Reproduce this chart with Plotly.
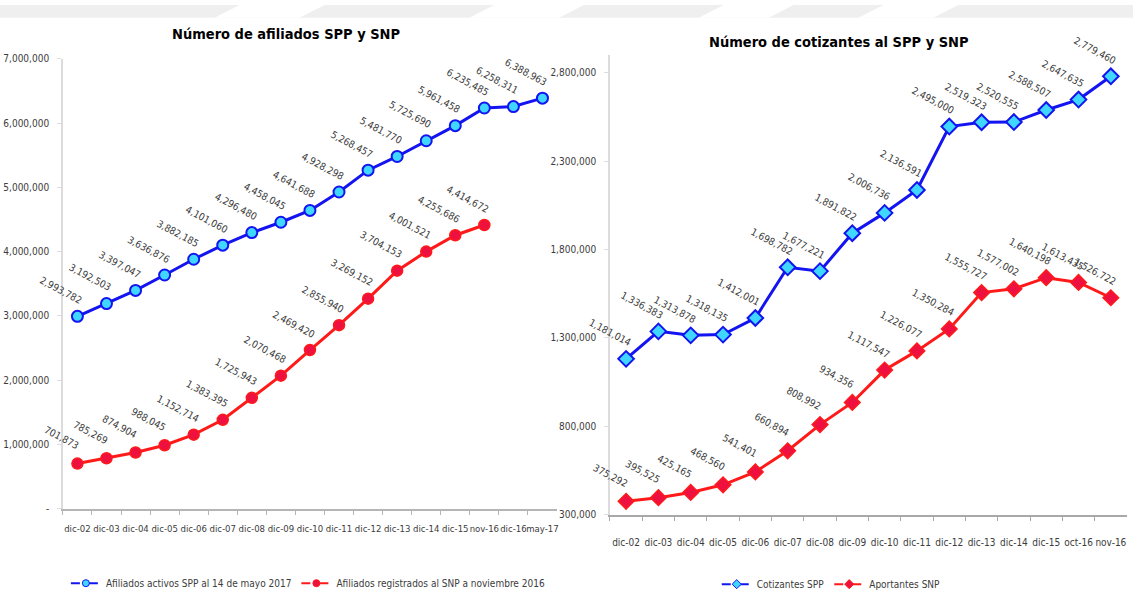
import plotly.graph_objects as go

# ---- Data -------------------------------------------------------------
fechas_afiliados = ["dic-02", "dic-03", "dic-04", "dic-05", "dic-06", "dic-07",
                    "dic-08", "dic-09", "dic-10", "dic-11", "dic-12", "dic-13",
                    "dic-14", "dic-15", "nov-16", "dic-16", "may-17"]
afiliados_spp = [2993782, 3192503, 3397047, 3636876, 3882185, 4101060, 4296480,
                 4458045, 4641688, 4928298, 5268457, 5481770, 5725690, 5961458,
                 6235485, 6258311, 6388963]
fechas_afiliados_snp = ["dic-02", "dic-03", "dic-04", "dic-05", "dic-06", "dic-07",
                        "dic-08", "dic-09", "dic-10", "dic-11", "dic-12", "dic-13",
                        "dic-14", "dic-15", "nov-16"]
afiliados_snp = [701873, 785269, 874904, 988045, 1152714, 1383395, 1725943,
                 2070468, 2469420, 2855940, 3269152, 3704153, 4001521, 4255686,
                 4414672]

fechas_cotizantes = ["dic-02", "dic-03", "dic-04", "dic-05", "dic-06", "dic-07",
                     "dic-08", "dic-09", "dic-10", "dic-11", "dic-12", "dic-13",
                     "dic-14", "dic-15", "oct-16", "nov-16"]
cotizantes_spp = [1181014, 1336383, 1313878, 1318135, 1412001, 1698782, 1677221,
                  1891822, 2006736, 2136591, 2495000, 2519323, 2520555, 2588507,
                  2647635, 2779460]
aportantes_snp = [375292, 395525, 425165, 468560, 541401, 660894, 808992, 934356,
                  1117547, 1226077, 1350284, 1555727, 1577002, 1640198, 1613435,
                  1526722]

ticks_afiliados = [0, 1000000, 2000000, 3000000, 4000000, 5000000, 6000000, 7000000]
ticks_afiliados_txt = ["-", "1,000,000", "2,000,000", "3,000,000", "4,000,000",
                       "5,000,000", "6,000,000", "7,000,000"]
ticks_cotizantes = [300000, 800000, 1300000, 1800000, 2300000, 2800000]
ticks_cotizantes_txt = ["300,000", "800,000", "1,300,000", "1,800,000",
                        "2,300,000", "2,800,000"]

W, H = 1135, 599
FONT = "DejaVu Sans Condensed, Liberation Sans Narrow, Arial Narrow, sans-serif"
AZUL, CIAN = "#1414f0", "#3fd6ff"
ROJO, ROJO_MK = "#ff1a1a", "#ee1140"
GRIS_TXT = "#3c3c3c"


def px_x(p):
    return p / W


def px_y(p):
    return 1 - p / H


fig = go.Figure()


def serie(xs, ys, nombre, color, relleno, simbolo, size, borde, xa, ya, leyenda):
    # plotted series (legend entry drawn separately with a compact symbol)
    fig.add_trace(go.Scatter(
        x=xs, y=ys, mode="lines+markers", name=nombre, showlegend=False,
        line=dict(color=color, width=3),
        marker=dict(symbol=simbolo, size=size, color=relleno,
                    line=dict(color=color, width=borde)),
        xaxis=xa, yaxis=ya))
    fig.add_trace(go.Scatter(
        x=[None], y=[None], mode="lines+markers", name=nombre, showlegend=True,
        line=dict(color=color, width=2, dash="dash"),
        marker=dict(symbol=simbolo, size=7, color=relleno,
                    line=dict(color=color, width=1)),
        xaxis=xa, yaxis=ya, legend=leyenda))


# ---- Left panel: afiliados --------------------------------------------
serie(fechas_afiliados, afiliados_spp, "Afiliados activos SPP al 14 de mayo 2017",
      AZUL, CIAN, "circle", 11, 2, "x", "y", "legend")
serie(fechas_afiliados_snp, afiliados_snp, "Afiliados registrados al SNP a noviembre 2016",
      ROJO, ROJO_MK, "circle", 11, 1.5, "x", "y", "legend")

# ---- Right panel: cotizantes ------------------------------------------
serie(fechas_cotizantes, cotizantes_spp, "Cotizantes SPP",
      AZUL, CIAN, "diamond", 12, 2, "x2", "y2", "legend2")
serie(fechas_cotizantes, aportantes_snp, "Aportantes SNP",
      ROJO, ROJO_MK, "diamond", 12, 1.5, "x2", "y2", "legend2")

# ---- Rotated value labels ---------------------------------------------
annotations = []


def etiquetas(xs, ys, xref, yref):
    for xv, yv in zip(xs, ys):
        annotations.append(dict(
            x=xv, y=yv, xref=xref, yref=yref, text=f"{yv:,}",
            showarrow=False, textangle=28, xanchor="center", yanchor="middle",
            xshift=-16, yshift=26,
            font=dict(family=FONT, size=10, color=GRIS_TXT)))


etiquetas(fechas_afiliados, afiliados_spp, "x", "y")
etiquetas(fechas_afiliados_snp, afiliados_snp, "x", "y")
etiquetas(fechas_cotizantes, cotizantes_spp, "x2", "y2")
etiquetas(fechas_cotizantes, aportantes_snp, "x2", "y2")

# Panel titles
annotations.append(dict(x=px_x(287), y=px_y(30), xref="paper", yref="paper",
                        text="<b>Número de afiliados SPP y SNP</b>", showarrow=False,
                        xanchor="center", yanchor="middle",
                        font=dict(family=FONT, size=14.5, color="#000000")))
annotations.append(dict(x=px_x(840), y=px_y(38), xref="paper", yref="paper",
                        text="<b>Número de cotizantes al SPP y SNP</b>", showarrow=False,
                        xanchor="center", yanchor="middle",
                        font=dict(family=FONT, size=14.5, color="#000000")))

# ---- Faint slide background band along the top ------------------------
shapes = [dict(type="rect", xref="paper", yref="paper", x0=0, x1=1,
               y0=px_y(13), y1=1, fillcolor="#efefef", line=dict(width=0), layer="below")]
for a, b in [(215, 300), (470, 560), (700, 770), (860, 935)]:
    shapes.append(dict(
        type="path", xref="paper", yref="paper",
        path=(f"M {px_x(a)} {px_y(13)} L {px_x(b)} {px_y(13)} "
              f"L {px_x(b + 25)} 1 L {px_x(a + 25)} 1 Z"),
        fillcolor="#ffffff", line=dict(width=0), layer="below"))

axis_font = dict(family=FONT, size=10, color=GRIS_TXT)
xtick_font_izq = dict(family=FONT, size=9.5, color=GRIS_TXT)
xtick_font_der = dict(family=FONT, size=10, color=GRIS_TXT)
legend_font = dict(family=FONT, size=10, color=GRIS_TXT)

fig.update_layout(
    width=W, height=H,
    margin=dict(l=0, r=0, t=0, b=0),
    paper_bgcolor="#ffffff", plot_bgcolor="rgba(0,0,0,0)",
    font=dict(family=FONT, color=GRIS_TXT),
    annotations=annotations, shapes=shapes,
    xaxis=dict(domain=[px_x(63), px_x(558)], anchor="y", type="category",
               categoryorder="array", categoryarray=fechas_afiliados,
               range=[-0.5, len(fechas_afiliados) - 0.5],
               showline=True, linecolor="#b5b5b5", linewidth=1.5,
               ticks="outside", tickson="boundaries", ticklen=5, tickcolor="#b5b5b5",
               showgrid=False, zeroline=False, tickfont=xtick_font_izq, tickangle=0,
               ticklabelstandoff=10),
    yaxis=dict(domain=[px_y(514), px_y(55)], anchor="x", range=[0, 7000000],
               tickvals=ticks_afiliados, ticktext=ticks_afiliados_txt,
               showline=True, linecolor="#dcdcdc", linewidth=1.5,
               ticks="outside", ticklen=4, tickcolor="#dcdcdc",
               showgrid=False, zeroline=False, tickfont=axis_font,
               ticklabelstandoff=6),
    xaxis2=dict(domain=[px_x(611), px_x(1129)], anchor="y2", type="category",
                categoryorder="array", categoryarray=fechas_cotizantes,
                range=[-0.5, len(fechas_cotizantes) - 0.5],
                showline=True, linecolor="#a8a8a8", linewidth=1.5,
                ticks="outside", tickson="boundaries", ticklen=5, tickcolor="#a8a8a8",
                showgrid=False, zeroline=False, tickfont=xtick_font_der, tickangle=0,
                ticklabelstandoff=18),
    yaxis2=dict(domain=[px_y(520), px_y(51)], anchor="x2", range=[300000, 2900000],
                tickvals=ticks_cotizantes, ticktext=ticks_cotizantes_txt,
                showline=True, linecolor="#dcdcdc", linewidth=1.5,
                ticks="outside", ticklen=4, tickcolor="#dcdcdc",
                showgrid=False, zeroline=False, tickfont=axis_font,
                ticklabelstandoff=6),
    legend=dict(orientation="h", x=px_x(66), y=px_y(590), xanchor="left", yanchor="middle",
                font=legend_font, bgcolor="rgba(0,0,0,0)",
                itemwidth=30, tracegroupgap=0),
    legend2=dict(orientation="h", x=px_x(718), y=px_y(591), xanchor="left", yanchor="middle",
                 font=legend_font, bgcolor="rgba(0,0,0,0)",
                 itemwidth=30, tracegroupgap=0),
)

fig.write_html("out.html")
